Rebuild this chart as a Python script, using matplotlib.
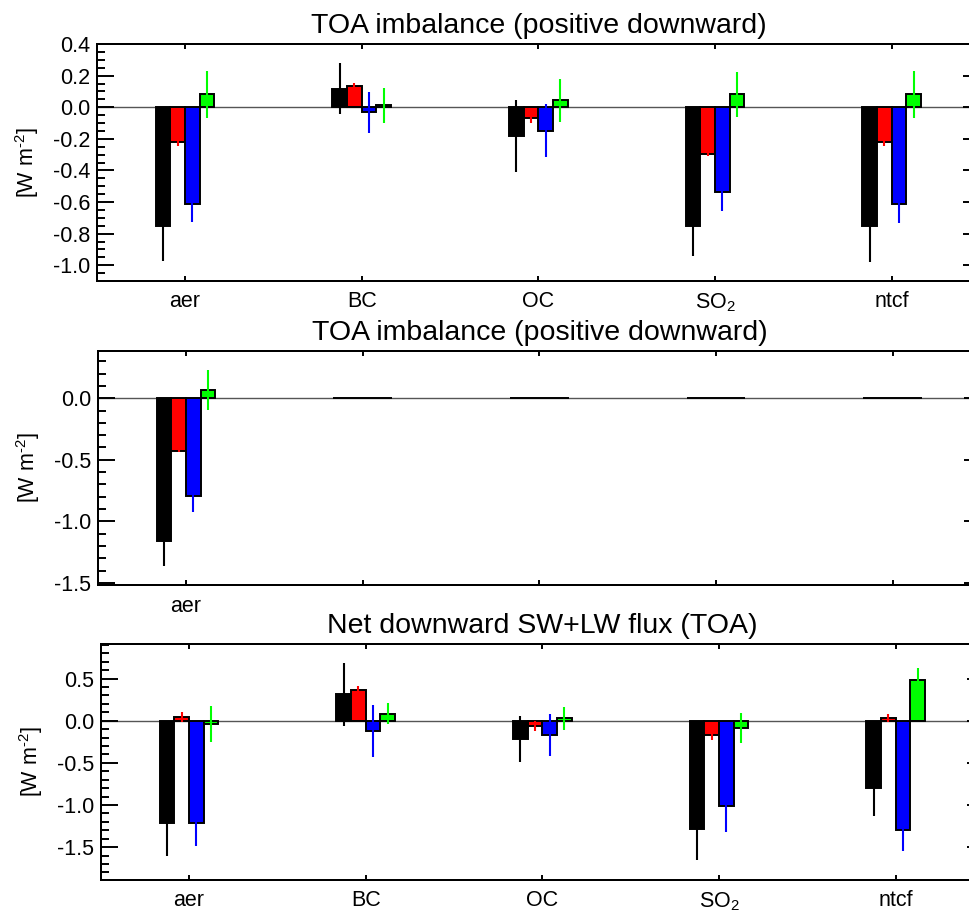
import matplotlib
matplotlib.use("Agg")
import matplotlib.pyplot as plt
import numpy as np
from matplotlib.ticker import MultipleLocator

plt.rcParams['font.family'] = ['Liberation Sans', 'DejaVu Sans']
plt.rcParams['mathtext.fontset'] = 'custom'
plt.rcParams['mathtext.rm'] = 'Liberation Sans'
plt.rcParams['mathtext.it'] = 'Liberation Sans'

categories = ['aer', 'BC', 'OC', 'SO$_2$', 'ntcf']
colors = ['black', '#ff0000', '#0000ff', '#00ff00']

# panel 1: TOA imbalance
top_black = [-0.750, 0.117, -0.180, -0.750, -0.750]
top_red = [-0.220, 0.134, -0.068, -0.296, -0.220]
top_blue = [-0.612, -0.032, -0.148, -0.538, -0.612]
top_green = [0.081, 0.011, 0.043, 0.081, 0.081]
top_black_err = [0.225, 0.163, 0.228, 0.193, 0.229]
top_red_err = [0.025, 0.020, 0.035, 0.015, 0.023]
top_blue_err = [0.117, 0.128, 0.168, 0.117, 0.118]
top_green_err = [0.150, 0.110, 0.138, 0.140, 0.150]

# panel 2: TOA imbalance, aer only
mid_black = [-1.163, 0, 0, 0, 0]
mid_red = [-0.425, 0, 0, 0, 0]
mid_blue = [-0.798, 0, 0, 0, 0]
mid_green = [0.067, 0, 0, 0, 0]
mid_black_err = [0.197, 0, 0, 0, 0]
mid_red_err = [0.016, 0, 0, 0, 0]
mid_blue_err = [0.127, 0, 0, 0, 0]
mid_green_err = [0.166, 0, 0, 0, 0]

# panel 3: net downward SW+LW flux
bot_black = [-1.208, 0.312, -0.217, -1.287, -0.801]
bot_red = [0.040, 0.360, -0.063, -0.174, 0.032]
bot_blue = [-1.208, -0.122, -0.166, -1.015, -1.295]
bot_green = [-0.040, 0.083, 0.028, -0.087, 0.482]
bot_black_err = [0.400, 0.375, 0.270, 0.363, 0.324]
bot_red_err = [0.060, 0.050, 0.060, 0.055, 0.050]
bot_blue_err = [0.277, 0.314, 0.250, 0.300, 0.249]
bot_green_err = [0.210, 0.125, 0.140, 0.180, 0.146]

fig = plt.figure(figsize=(9.69, 9.19), dpi=100)

panels = [
    dict(rect=[0.0998, 0.6942, 0.9116, 0.2579],
         vals=[top_black, top_red, top_blue, top_green],
         errs=[top_black_err, top_red_err, top_blue_err, top_green_err],
         ylim=(-1.1, 0.4), major=0.2, minor=0.05,
         title='TOA imbalance (positive downward)', labels=categories),
    dict(rect=[0.1008, 0.3631, 0.9116, 0.2553],
         vals=[mid_black, mid_red, mid_blue, mid_green],
         errs=[mid_black_err, mid_red_err, mid_blue_err, mid_green_err],
         ylim=(-1.52, 0.386), major=0.5, minor=0.1,
         title='TOA imbalance (positive downward)',
         labels=['aer', '', '', '', '']),
    dict(rect=[0.1039, 0.0424, 0.9116, 0.2568],
         vals=[bot_black, bot_red, bot_blue, bot_green],
         errs=[bot_black_err, bot_red_err, bot_blue_err, bot_green_err],
         ylim=(-1.89, 0.91), major=0.5, minor=0.1,
         title='Net downward SW+LW flux (TOA)', labels=categories),
]

x = np.arange(len(categories)) + 0.5
w = 1 / 12

for p in panels:
    ax = fig.add_axes(p['rect'])
    ax.axhline(0, color='#555555', lw=1.0, zorder=1)
    for i, (v, e, c) in enumerate(zip(p['vals'], p['errs'], colors)):
        xi = x + (i - 1.5) * w
        ax.bar(xi, v, width=w, color=c, edgecolor='black', linewidth=1.4,
               zorder=2)
        ax.errorbar(xi, v, yerr=e, fmt='none', ecolor=c, elinewidth=1.5,
                    capsize=0, zorder=3)

    ax.set_xlim(0, 5)
    ax.set_ylim(*p['ylim'])
    ax.set_xticks(x)
    ax.set_xticklabels(p['labels'])
    ax.yaxis.set_major_locator(MultipleLocator(p['major']))
    ax.yaxis.set_minor_locator(MultipleLocator(p['minor']))
    ax.yaxis.set_major_formatter(plt.FormatStrFormatter('%.1f'))
    ax.tick_params(axis='y', which='major', direction='in', length=12.5,
                   width=1.4, left=True, right=True, labelsize=15.5, pad=4.8)
    ax.tick_params(axis='y', which='minor', direction='in', length=6,
                   width=1.4, left=True, right=False)
    ax.tick_params(axis='x', which='major', direction='in', length=3.6,
                   width=1.4, top=True, bottom=True, labelsize=15.5, pad=7.5)
    for s in ax.spines.values():
        s.set_linewidth(1.44)
    ax.set_title(p['title'], fontsize=20.5, pad=8)
    ax.set_ylabel('[W m$^{\\text{-2}}$]', fontsize=15.5)
    ax.yaxis.set_label_coords(-0.0625, 0.5)

fig.savefig('out.png', dpi=100)
